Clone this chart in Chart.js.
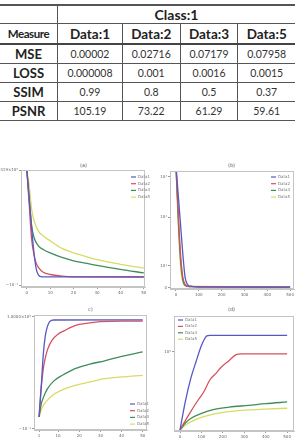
<!DOCTYPE html>
<html>
<head>
<meta charset="utf-8">
<script src="https://cdn.jsdelivr.net/npm/chart.js@4"></script>
<style>
  body { margin: 0; width: 297px; height: 446px; background: #fff; position: relative; overflow: hidden; }
  #tbl { position: absolute; left: 0; top: 4px; width: 295px; border-collapse: collapse; font-family: Lato, sans-serif; color: #222; }
  #tbl td, #tbl th { padding: 0; text-align: center; border: 1px solid #555; }
  #tbl tr td:first-child, #tbl tr th:first-child { border-left: none; }
  #tbl tr td:last-child, #tbl tr th:last-child { border-right: none; }
  #tbl tr:first-child td { border-top: 2px solid #555; }
  #tbl .cls { font-size: 14px; font-weight: bold; height: 17px; }
  #tbl .hdr th { font-size: 13.5px; font-weight: bold; height: 19px; border-bottom: 2px solid #444; }
  #tbl .hdr th.m { font-size: 11.5px; letter-spacing: -0.4px; }
  #tbl .row td { font-size: 10.5px; height: 18px; color: #333; }
  #tbl .row td.name { font-size: 13px; font-weight: bold; color: #222; }
  canvas { position: absolute; }
  .ttl { position: absolute; font: 5px "DejaVu Sans", sans-serif; color: #555; }
</style>
</head>
<body>
<table id="tbl"></table>

<div class="ttl" style="left:80px; top:162px;">(a)</div>
<div class="ttl" style="left:228px; top:162px;">(b)</div>
<div class="ttl" style="left:88px; top:306px;">c)</div>
<div class="ttl" style="left:228px; top:306px;">(d)</div>

<canvas id="chA" style="left:0; top:165px;"></canvas>
<canvas id="chB" style="left:150px; top:165px;"></canvas>
<canvas id="chC" style="left:0; top:305px;"></canvas>
<canvas id="chD" style="left:150px; top:305px;"></canvas>

<script>
// table values
const tableClass = 'Class:1';
const tableColumns = ['Data:1', 'Data:2', 'Data:3', 'Data:5'];
const measures = ['MSE', 'LOSS', 'SSIM', 'PSNR'];
const mseVals = ['0.00002', '0.02716', '0.07179', '0.07958'];
const lossVals = ['0.000008', '0.001', '0.0016', '0.0015'];
const ssimVals = ['0.99', '0.8', '0.5', '0.37'];
const psnrVals = ['105.19', '73.22', '61.29', '59.61'];

const seriesNames = ['Data1', 'Data2', 'Data3', 'Data5'];
const seriesColors = ['#5858c4', '#d6505e', '#3f8d58', '#d6dc66'];

// (a) curves, y as fraction of axis height
const aX1 = [0, 1, 2, 3, 4, 5, 6, 8, 50];
const aY1 = [1.0, 0.75, 0.5, 0.28, 0.13, 0.075, 0.062, 0.06, 0.06];
const aX2 = [0, 1, 2, 3, 4, 5, 7, 10, 15, 20, 50];
const aY2 = [1.0, 0.7, 0.4, 0.26, 0.18, 0.14, 0.1, 0.08, 0.066, 0.06, 0.058];
const aX3 = [0, 1, 2, 3, 5, 7, 10, 15, 20, 25, 30, 40, 50];
const aY3 = [1.0, 0.75, 0.52, 0.41, 0.33, 0.3, 0.27, 0.23, 0.2, 0.18, 0.16, 0.125, 0.094];
const aX5 = [0, 1, 2, 3, 5, 7, 10, 15, 20, 25, 30, 40, 50];
const aY5 = [1.0, 0.86, 0.66, 0.56, 0.46, 0.42, 0.376, 0.31, 0.27, 0.24, 0.21, 0.17, 0.137];
const aXTicks = [0, 10, 20, 30, 40, 50];
const aYTicks = [1.0, -0.015];
const aYLabels = ['1.1319×10⁰', '−10⁻¹'];

// (b)
const bX1 = [0, 10, 20, 30, 40, 50, 70, 100, 500];
const bY1 = [1.05, 0.8, 0.55, 0.3, 0.1, 0.04, 0.022, 0.016, 0.016];
const bX2 = [0, 10, 20, 30, 40, 60, 500];
const bY2 = [1.05, 0.65, 0.3, 0.1, 0.04, 0.02, 0.016];
const bX3 = [0, 10, 20, 30, 40, 60, 500];
const bY3 = [1.05, 0.6, 0.25, 0.08, 0.03, 0.02, 0.016];
const bX5 = [0, 10, 20, 30, 40, 60, 500];
const bY5 = [1.05, 0.55, 0.2, 0.06, 0.032, 0.025, 0.02];
const bXTicks = [0, 100, 200, 300, 400, 500];
const bYTicks = [0.95, 0.61, 0.195, 0.01];
const bYLabels = ['10³', '10²', '10¹', '0'];

// (c)
const cX1 = [1, 2, 3, 4, 5, 6, 8, 50];
const cY1 = [0.087, 0.35, 0.65, 0.82, 0.9, 0.94, 0.955, 0.957];
const cX2 = [1, 2, 3, 4, 5, 7, 10, 13, 16, 20, 25, 30, 40, 50];
const cY2 = [0.087, 0.35, 0.52, 0.62, 0.69, 0.77, 0.83, 0.86, 0.89, 0.915, 0.93, 0.94, 0.945, 0.945];
const cX3 = [1, 2, 3, 5, 8, 12, 18, 25, 32, 40, 50];
const cY3 = [0.087, 0.2, 0.26, 0.34, 0.41, 0.46, 0.52, 0.56, 0.59, 0.63, 0.67];
const cX5 = [1, 2, 3, 5, 8, 12, 18, 25, 32, 40, 50];
const cY5 = [0.087, 0.15, 0.19, 0.24, 0.29, 0.33, 0.37, 0.4, 0.43, 0.445, 0.46];
const cXTicks = [1, 10, 20, 30, 40, 50];
const cYTicks = [0.985, -0.017];
const cYLabels = ['1.0000×10⁰', '−10⁻¹'];

// (d)
const dX1 = [0, 25, 50, 75, 100, 115, 125, 140, 500];
const dY1 = [0, 0.25, 0.45, 0.6, 0.74, 0.8, 0.825, 0.83, 0.83];
const dX2 = [0, 40, 84, 110, 140, 170, 192, 230, 262, 290, 500];
const dY2 = [0, 0.13, 0.26, 0.33, 0.44, 0.5, 0.55, 0.61, 0.66, 0.667, 0.667];
const dX3 = [0, 25, 50, 100, 160, 230, 320, 400, 500];
const dY3 = [0, 0.06, 0.1, 0.145, 0.18, 0.2, 0.215, 0.23, 0.245];
const dX5 = [0, 25, 50, 100, 160, 230, 320, 400, 500];
const dY5 = [0, 0.04, 0.07, 0.11, 0.14, 0.16, 0.175, 0.183, 0.19];
const dXTicks = [0, 100, 200, 300, 400, 500];
const dYTicks = [0.684];
const dYLabels = ['10⁰'];

// build table
const tbl = document.getElementById('tbl');
let html = '<tr><td class="cls"></td><td class="cls" colspan="4">' + tableClass + '</td></tr>';
html += '<tr class="hdr"><th class="m" style="width:57px">Measure</th>' +
  tableColumns.map(c => '<th>' + c + '</th>').join('') + '</tr>';
[mseVals, lossVals, ssimVals, psnrVals].forEach((vals, i) => {
  html += '<tr class="row"><td class="name">' + measures[i] + '</td>' +
    vals.map(v => '<td>' + v + '</td>').join('') + '</tr>';
});
tbl.innerHTML = html;

// frame + inner legend
const framePlugin = {
  id: 'frame',
  afterDraw(chart, args, opts) {
    const { ctx, chartArea: a } = chart;
    ctx.save();
    ctx.strokeStyle = '#c4c4c4';
    ctx.lineWidth = 1;
    ctx.strokeRect(a.left + 0.5, a.top + 0.5, a.right - a.left - 1, a.bottom - a.top - 1);
    ctx.font = '4px "DejaVu Sans"';
    ctx.textBaseline = 'middle';
    chart.data.datasets.forEach((ds, i) => {
      const y = opts.y + i * opts.gap;
      ctx.strokeStyle = ds.borderColor;
      ctx.lineWidth = 1.2;
      ctx.beginPath();
      ctx.moveTo(opts.x, y);
      ctx.lineTo(opts.x + 5, y);
      ctx.stroke();
      ctx.fillStyle = '#777';
      ctx.fillText(ds.label, opts.x + 7, y);
    });
    ctx.restore();
  }
};

function pts(xs, ys) {
  return xs.map((x, i) => ({ x: x, y: ys[i] }));
}

function makeChart(id, w, h, series, xr, yr, xTicks, yTicks, yLabels, pad, yW, xH, legend) {
  const cv = document.getElementById(id);
  cv.width = w; cv.height = h;
  cv.style.width = w + 'px'; cv.style.height = h + 'px';
  return new Chart(cv, {
    type: 'line',
    data: {
      datasets: series.map((s, i) => ({
        label: seriesNames[i],
        data: pts(s[0], s[1]),
        borderColor: seriesColors[i],
        borderWidth: 1.3,
        pointRadius: 0,
        cubicInterpolationMode: 'monotone',
        fill: false
      }))
    },
    options: {
      responsive: false,
      animation: false,
      events: [],
      layout: { padding: pad },
      plugins: { legend: { display: false }, tooltip: { enabled: false }, frame: legend },
      scales: {
        x: {
          type: 'linear', min: xr[0], max: xr[1],
          afterBuildTicks: sc => { sc.ticks = xTicks.map(v => ({ value: v })); },
          afterFit: sc => { sc.height = xH; },
          border: { color: '#c4c4c4' },
          grid: { drawOnChartArea: false, tickLength: 2, color: '#999' },
          ticks: { font: { size: 4, family: 'DejaVu Sans' }, color: '#666', padding: 2, maxRotation: 0 }
        },
        y: {
          type: 'linear', min: yr[0], max: yr[1],
          afterBuildTicks: sc => { sc.ticks = yTicks.map(v => ({ value: v })); },
          afterFit: sc => { sc.width = yW; },
          border: { color: '#c4c4c4' },
          grid: { drawOnChartArea: false, tickLength: 2, color: '#999' },
          ticks: {
            font: { size: 4, family: 'DejaVu Sans' }, color: '#666', padding: 1,
            callback: (v, i) => yLabels[i]
          }
        }
      }
    },
    plugins: [framePlugin]
  });
}

makeChart('chA', 150, 135,
  [[aX1, aY1], [aX2, aY2], [aX3, aY3], [aX5, aY5]],
  [-2.5, 50.5], [-0.03, 1.0], aXTicks, aYTicks, aYLabels,
  { left: 0, right: 5, top: 5, bottom: 0 }, 21, 13,
  { x: 131, y: 12, gap: 6.7 });

makeChart('chB', 147, 135,
  [[bX1, bY1], [bX2, bY2], [bX3, bY3], [bX5, bY5]],
  [-26, 517], [0, 1.0], bXTicks, bYTicks, bYLabels,
  { left: 0, right: 3, top: 6, bottom: 0 }, 20, 11,
  { x: 121, y: 12, gap: 6.7 });

makeChart('chC', 150, 141,
  [[cX1, cY1], [cX2, cY2], [cX3, cY3], [cX5, cY5]],
  [-1.4, 52], [-0.03, 1.0], cXTicks, cYTicks, cYLabels,
  { left: 0, right: 3, top: 10, bottom: 0 }, 34, 16,
  { x: 130, y: 99, gap: 6.7 });

makeChart('chD', 147, 141,
  [[dX1, dY1], [dX2, dY2], [dX3, dY3], [dX5, dY5]],
  [-28, 532], [-0.01, 1.0], dXTicks, dYTicks, dYLabels,
  { left: 0, right: 3, top: 11, bottom: 0 }, 24, 15,
  { x: 28, y: 15, gap: 6.4 });
</script>
</body>
</html>
